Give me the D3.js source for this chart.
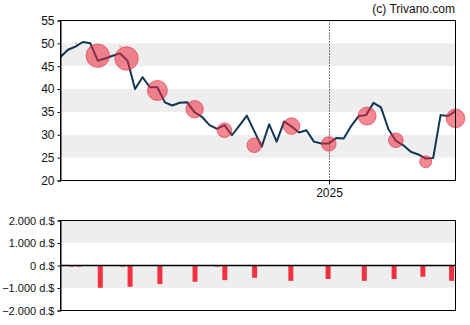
<!DOCTYPE html>
<html><head><meta charset="utf-8">
<script src="https://cdn.jsdelivr.net/npm/d3@7"></script>
<style>body{margin:0;background:#fff}svg{display:block}text{font-family:"Liberation Sans",Arial,sans-serif}</style>
</head><body><svg id="c" width="470" height="325"></svg>
<script>
// ---- data ----
const startDate = "2024-04-24"; // first weekly observation
const prices = [47.0,48.6,49.3,50.3,50.0,46.2,46.7,47.3,47.8,46.2,40.0,42.6,40.4,40.4,37.1,36.4,37.0,37.1,34.9,33.9,32.1,31.3,32.1,29.9,32.0,34.2,30.8,27.4,32.3,28.5,32.9,31.8,30.5,31.0,28.5,28.1,28.1,29.3,29.2,31.9,34.1,34.3,37.0,36.0,31.2,28.7,27.7,26.3,25.7,24.8,24.9,34.3,34.1,35.2];
const circleDates = ["2024-05-29","2024-06-25","2024-07-24","2024-08-28","2024-09-25","2024-10-23","2024-11-27","2025-01-01","2025-02-06","2025-03-05","2025-04-02","2025-04-30"];
const circlePrices = [47.3,46.7,39.7,35.6,31.0,27.7,31.9,28.0,34.1,28.8,24.1,33.6];
const circleAmounts = [983,983,718,544,383,383,495,383,582,383,259,621];
const dotDates = ["2024-05-09","2024-06-19"];
const dotPrices = [50.0,49.3];
const barDates = ["2024-05-02","2024-05-09","2024-05-29","2024-06-19","2024-06-26","2024-07-24","2024-08-26","2024-09-16","2024-09-23","2024-10-21","2024-11-24","2024-12-29","2025-02-01","2025-03-01","2025-03-28","2025-04-24"];
const barValues = [-50,-50,-990,-50,-945,-825,-720,-50,-650,-545,-680,-600,-680,-600,-500,-680];
const priceTicks = [20,25,30,35,40,45,50,55];
const flowTicks = [-2000,-1000,0,1000,2000];
const yearTick = "2025-01-01";
const yearLabel = "2025";
const credit = "(c) Trivano.com";

// ---- build ----
const parse = d3.utcParse("%Y-%m-%d");
const t0 = parse(startDate);
const dates = prices.map((_, i) => d3.utcDay.offset(t0, i * 7));
const svg = d3.select("#c");
const L = 60.5, R = 455.5;
const x = d3.scaleUtc().domain([dates[0], dates[dates.length - 1]]).range([L, R]);
const y = d3.scaleLinear().domain([20, 55]).range([180.5, 20.5]);
const y2 = d3.scaleLinear().domain([-2000, 2000]).range([310.5, 220.5]);
const fmt = d3.formatLocale({decimal: ",", thousands: ".", grouping: [3], currency: ["", ""]}).format(",");

// top bands
[[45,50],[35,40],[25,30]].forEach(([a,b]) => {
  svg.append("rect").attr("x", L).attr("width", R - L).attr("y", y(b)).attr("height", y(a) - y(b)).attr("fill", "#eeeeee");
});
// bottom bands
[[1000,2000],[-1000,0]].forEach(([a,b]) => {
  svg.append("rect").attr("x", L).attr("width", R - L).attr("y", y2(b)).attr("height", y2(a) - y2(b)).attr("fill", "#eeeeee");
});

// year line
const xy = Math.round(x(parse(yearTick))) + 0.5;
svg.append("line").attr("x1", xy).attr("x2", xy).attr("y1", y(55)).attr("y2", y(20))
  .attr("stroke", "#000").attr("stroke-width", 1).attr("stroke-dasharray", "1,2");
svg.append("line").attr("x1", xy).attr("x2", xy).attr("y1", y(20)).attr("y2", y(20) + 4)
  .attr("stroke", "#000").attr("stroke-width", 1);
svg.append("text").attr("x", xy).attr("y", 197).attr("text-anchor", "middle").attr("font-size", 12).attr("fill", "#111").text(yearLabel);

// line
svg.append("path").datum(prices).attr("fill", "none").attr("stroke", "#0f3554").attr("stroke-width", 2)
  .attr("stroke-linejoin", "round")
  .attr("d", d3.line().x((d, i) => x(dates[i])).y(d => y(d)));

// circles
const rs = d3.scaleSqrt().domain([0, 1000]).range([0, 11.8]);
svg.selectAll("circle.c").data(circlePrices).join("circle")
  .attr("cx", (d, i) => x(parse(circleDates[i]))).attr("cy", d => y(d)).attr("r", (d, i) => rs(circleAmounts[i]))
  .attr("fill", "rgba(235,40,60,0.55)").attr("stroke", "rgba(225,40,60,0.6)").attr("stroke-width", 1);
svg.selectAll("circle.d").data(dotPrices).join("circle")
  .attr("cx", (d, i) => x(parse(dotDates[i]))).attr("cy", d => y(d)).attr("r", 0.8)
  .attr("fill", "rgba(235,40,60,0.7)");

// bars
svg.selectAll("rect.b").data(barValues).join("rect")
  .attr("x", (d, i) => x(parse(barDates[i]))).attr("width", 5)
  .attr("y", d => y2(Math.max(0, d))).attr("height", d => Math.abs(y2(d) - y2(0)))
  .attr("fill", "#f2303f");

// frames
svg.append("rect").attr("x", L).attr("y", y(55)).attr("width", R - L).attr("height", y(20) - y(55))
  .attr("fill", "none").attr("stroke", "#000").attr("stroke-width", 1);
svg.append("rect").attr("x", L).attr("y", y2(2000)).attr("width", R - L).attr("height", y2(-2000) - y2(2000))
  .attr("fill", "none").attr("stroke", "#000").attr("stroke-width", 1);
svg.append("line").attr("x1", L).attr("x2", R).attr("y1", y2(0)).attr("y2", y2(0)).attr("stroke", "#000").attr("stroke-width", 1.5);

// axes
const ax1 = svg.append("g").attr("transform", `translate(${L},0)`)
  .call(d3.axisLeft(y).tickValues(priceTicks).tickSize(3).tickPadding(3));
const ax2 = svg.append("g").attr("transform", `translate(${L},0)`)
  .call(d3.axisLeft(y2).tickValues(flowTicks).tickSize(3).tickPadding(3).tickFormat(d => fmt(d) + " d.$"));
[ax1, ax2].forEach((a, k) => {
  a.select(".domain").attr("stroke", "#000");
  a.selectAll(".tick line").attr("stroke", "#000");
  a.selectAll("text").attr("font-size", k === 0 ? 12 : 11).attr("fill", "#111").attr("font-family", '"Liberation Sans",Arial,sans-serif');
});

svg.append("text").attr("x", 455).attr("y", 13).attr("text-anchor", "end").attr("font-size", 12).attr("fill", "#111").text(credit);
</script></body></html>
